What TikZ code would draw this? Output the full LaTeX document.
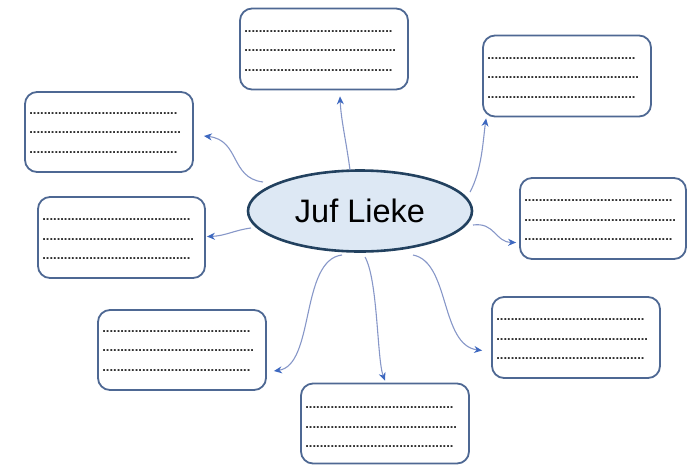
\documentclass[tikz,border=0pt]{standalone}
\usepackage{fontspec}
\setmainfont{Liberation Sans}
\usetikzlibrary{calc,arrows.meta,shapes.geometric}
\definecolor{boxline}{HTML}{4E6893}
\definecolor{ellfill}{HTML}{DDE8F4}
\definecolor{ellline}{HTML}{22415F}
\definecolor{conn}{HTML}{8797C8}
\definecolor{tip}{HTML}{3D68C0}
\definecolor{dotc}{HTML}{2E2E2E}
\newcommand\dotrow[1]{\foreach\i in {1,...,#1}{.}}
\tikzset{
  card/.style={draw=boxline, line width=1.8pt, rounded corners=12pt, fill=white, minimum width=168pt, minimum height=81pt, inner sep=0pt},
  dottext/.style={anchor=west, align=left, inner sep=0pt, text=dotc, font=\fontsize{13}{19.5}\selectfont\bfseries},
  link/.style={draw=conn, line width=1.1pt, -{Stealth[length=8pt,width=7pt,fill=tip,color=tip]}}
}
\begin{document}
\begin{tikzpicture}[x=1pt,y=-1pt]
\useasboundingbox (0,0) rectangle (687,464);
% boxes
\node[card] (b1) at (324,49) {};
\node[card] (b2) at (567,76) {};
\node[card, minimum height=80pt] (b3) at (109,132) {};
\node[card, minimum width=167pt, minimum height=81pt] (b4) at (121.5,237.5) {};
\node[card, minimum width=166pt] (b5) at (603,218.5) {};
\node[card, minimum height=80pt] (b6) at (182,350) {};
\node[card] (b7) at (576,337.5) {};
\node[card, minimum height=80pt] (b8) at (385,423.5) {};
% dotted lines
\node[dottext] (t1) at ($(b1.west)+(5,2)$) {\dotrow{41}\\\dotrow{42}\\\dotrow{41}};
\node[dottext] (t2) at ($(b2.west)+(5,2)$) {\dotrow{41}\\\dotrow{42}\\\dotrow{41}};
\node[dottext] (t3) at ($(b3.west)+(5,1)$) {\dotrow{41}\\\dotrow{42}\\\dotrow{41}};
\node[dottext] (t4) at ($(b4.west)+(5,2)$) {\dotrow{41}\\\dotrow{42}\\\dotrow{41}};
\node[dottext] (t5) at ($(b5.west)+(5,2)$) {\dotrow{41}\\\dotrow{42}\\\dotrow{41}};
\node[dottext] (t6) at ($(b6.west)+(5,1)$) {\dotrow{41}\\\dotrow{42}\\\dotrow{41}};
\node[dottext] (t7) at ($(b7.west)+(5,2)$) {\dotrow{41}\\\dotrow{42}\\\dotrow{41}};
\node[dottext] (t8) at ($(b8.west)+(5,4)$) {\dotrow{41}\\\dotrow{42}\\\dotrow{41}};
% centre
\node[ellipse, draw=ellline, line width=2.6pt, fill=ellfill, minimum width=224pt, minimum height=81pt, inner sep=0pt, font=\fontsize{32.5}{36}\selectfont] (e) at (360,211) {Juf Lieke};
% connectors
\draw[link] ($(e.center)+(-10,-41)$) .. controls (346,140) and (341,120) .. ($(b1.south)+(16,6)$);
\draw[link] ($(e.center)+(110,-19)$) .. controls (482,170) and (483,140) .. ($(b2.south west)+(4,1)$);
\draw[link] ($(e.center)+(-97,-29)$) .. controls (230,178) and (240,140) .. ($(b3.east)+(10,4)$);
\draw[link] ($(e.center)+(-109,17)$) .. controls (235,230) and (225,236) .. ($(b4.east)+(1,-1)$);
\draw[link] ($(e.center)+(113,14)$) .. controls (495,222) and (495,242) .. ($(b5.west)+(-3,24)$);
\draw[link] ($(e.center)+(-18,44)$) .. controls (300,260) and (315,365) .. ($(b6.east)+(7,21)$);
\draw[link] ($(e.center)+(5,46)$) .. controls (378,280) and (377,360) .. ($(b8.north)+(0,-2)$);
\draw[link] ($(e.center)+(53,44)$) .. controls (450,262) and (440,345) .. ($(b7.west)+(-9,13)$);
\end{tikzpicture}
\end{document}
